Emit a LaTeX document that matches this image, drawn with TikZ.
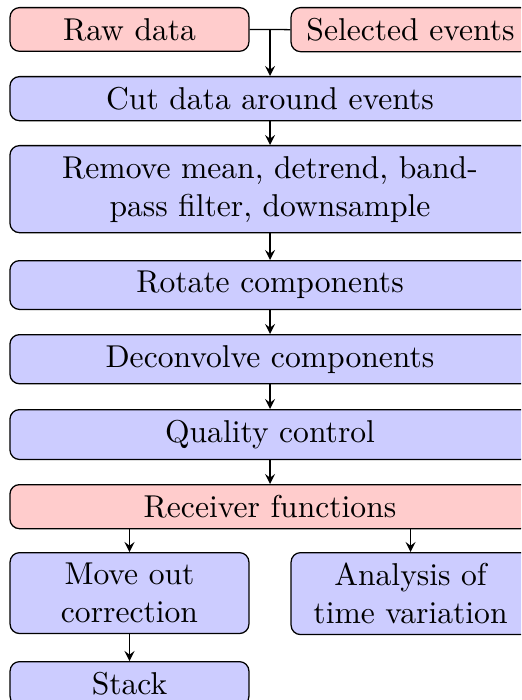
\documentclass[tikz,border=0pt]{standalone}
\usetikzlibrary{arrows}
\begin{document}
\begin{tikzpicture}[x=0.3165pt, y=-0.3165pt,
  box/.style={draw, rounded corners=3pt, align=center, line width=0.4pt},
  wide/.style={box, minimum width=164.6pt},
  narrow/.style={box, minimum width=75.6pt},
  datafill/.style={fill=red!20},
  procfill/.style={fill=blue!20},
  flow/.style={-stealth, line width=0.4pt}]
\useasboundingbox (0,0) rectangle (521,700);
\clip (0,0) rectangle (521,700);

% inputs
\node[narrow, datafill, anchor=north] (raw) at (129.5,7) {Raw data};
\node[narrow, datafill, anchor=north] (sel) at (410.5,7) {Selected events};

% processing chain
\node[wide, procfill, anchor=north] (cut) at (270,76) {Cut data around events};
\node[wide, procfill, anchor=north] (prep) at (270,145) {Remove mean, detrend, band-\\pass filter, downsample};
\node[wide, procfill, anchor=north] (rot) at (270,260) {Rotate components};
\node[wide, procfill, anchor=north] (dec) at (270,334) {Deconvolve components};
\node[wide, procfill, anchor=north] (qc) at (270,409) {Quality control};
\node[wide, datafill, anchor=north] (rf) at (270,484) {Receiver functions};

% outputs
\node[narrow, procfill, anchor=north] (mo) at (129.5,552) {Move out\\correction};
\node[narrow, procfill, anchor=north] (tv) at (410.5,552) {Analysis of\\time variation};
\node[narrow, procfill, anchor=north] (stk) at (129.5,661) {Stack};

% connectors
\draw (raw.east) -- (sel.west);
\coordinate (join) at (cut.north |- raw.east);
\draw[flow] (join) -- (cut.north);
\draw[flow] (cut) -- (prep);
\draw[flow] (prep) -- (rot);
\draw[flow] (rot) -- (dec);
\draw[flow] (dec) -- (qc);
\draw[flow] (qc) -- (rf);
\draw[flow] (rf.south -| mo.north) -- (mo.north);
\draw[flow] (rf.south -| tv.north) -- (tv.north);
\draw[flow] (mo) -- (stk);
\end{tikzpicture}
\end{document}
